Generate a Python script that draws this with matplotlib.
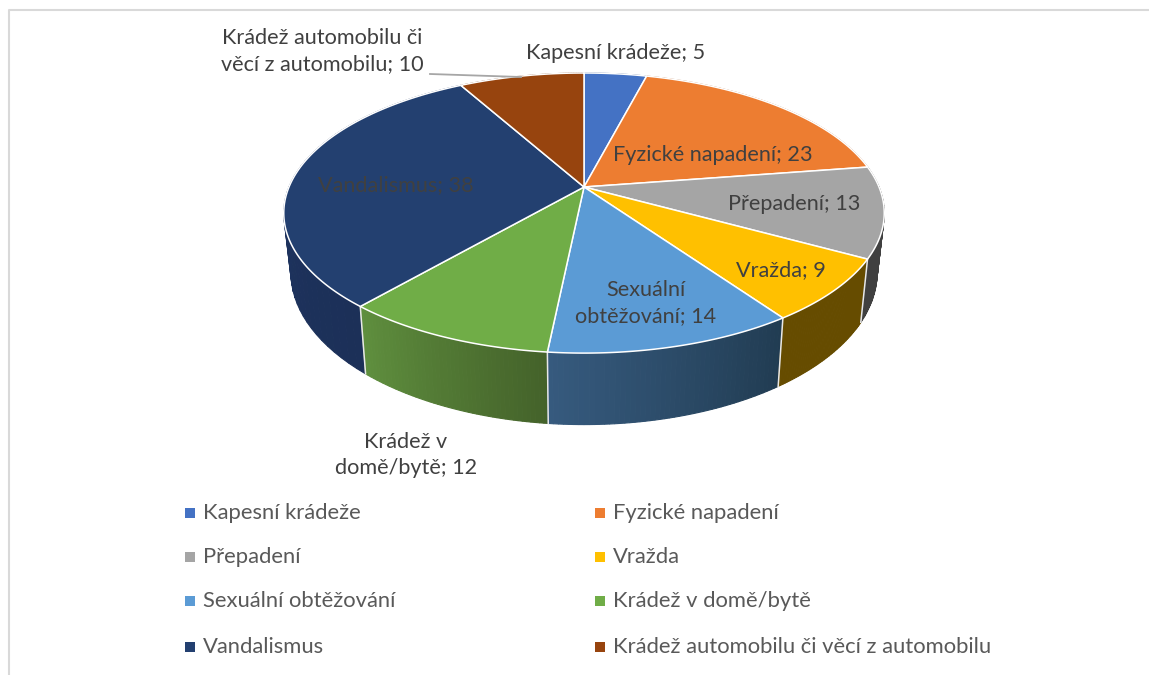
import matplotlib
matplotlib.use('Agg')
import matplotlib.pyplot as plt
import matplotlib.colors as mc
import numpy as np

plt.rcParams['font.family'] = ['Lato', 'DejaVu Sans']

categories = ['Kapesní krádeže', 'Fyzické napadení', 'Přepadení', 'Vražda',
              'Sexuální obtěžování', 'Krádež v domě/bytě', 'Vandalismus',
              'Krádež automobilu či věcí z automobilu']
values = [5, 23, 13, 9, 14, 12, 38, 10]
slice_labels = ['Kapesní krádeže; 5', 'Fyzické napadení; 23', 'Přepadení; 13', 'Vražda; 9',
                'Sexuální\nobtěžování; 14', 'Krádež v\ndomě/bytě; 12', 'Vandalismus; 38',
                'Krádež automobilu či\nvěcí z automobilu; 10']
colors = ['#4472C4', '#ED7D31', '#A5A5A5', '#FFC000', '#5B9BD5', '#70AD47', '#234070', '#97440E']
side_left = ['#2f4f88', '#a85820', '#404040', '#664c00', '#365a7e', '#5f8f3e', '#1f3766', '#6e320a']
side_right = ['#2f4f88', '#a85820', '#404040', '#664c00', '#213c52', '#44622a', '#1c3058', '#6e320a']
label_pos = [(616, 53), (713, 155), (794, 204), (781, 270), (646, 303), (406, 455), (396, 185), (322, 51)]

txt_col = '#404040'
fs = 15.6

# perspective disc, fitted on the picture
cx, cy = 584, 187
p = 0.186


def top_pts(th):
    den = 1 + p * np.cos(th)
    return cx + 295 * np.sin(th) / den, cy - 135.2 * np.cos(th) / den


def bottom_pts(th):
    den = 1 + p * np.cos(th)
    return cx + 288 * np.sin(th) / den, cy + 57 - 147 * np.cos(th) / den


fig = plt.figure(figsize=(11.49, 6.75), dpi=100)
ax = fig.add_axes([0, 0, 1, 1])
ax.set_xlim(0, 1149)
ax.set_ylim(675, 0)
ax.axis('off')

# frame
ax.plot([9, 9, 1149], [675, 10, 10], color='#d9d9d9', lw=1.5)

edges = np.cumsum([0] + values) / sum(values) * 2 * np.pi

# side wall, strips for the gradient
for i in range(len(values)):
    th = np.linspace(edges[i], edges[i + 1], 50)
    c0 = np.array(mc.to_rgb(side_left[i]))
    c1 = np.array(mc.to_rgb(side_right[i]))
    xt, yt = top_pts(th)
    xb, yb = bottom_pts(th)
    for j in range(len(th) - 1):
        # theta runs right to left on the front wall
        t = j / (len(th) - 2)
        col = c1 * (1 - t) + c0 * t
        ax.fill([xt[j], xt[j + 1], xb[j + 1], xb[j]], [yt[j], yt[j + 1], yb[j + 1], yb[j]],
                facecolor=col, edgecolor=col, lw=0.8, zorder=2 + j * 0.001)

# seams on the visible wall
for e in edges:
    if np.pi / 2 < e < 3 * np.pi / 2:
        xt, yt = top_pts(e)
        xb, yb = bottom_pts(e)
        ax.plot([xt, xb], [yt, yb], color='#e8e8e8', lw=1.1, zorder=3)

# top of the pie
for i in range(len(values)):
    th = np.linspace(edges[i], edges[i + 1], 120)
    xt, yt = top_pts(th)
    ax.fill(np.r_[cx, xt], np.r_[cy, yt], facecolor=colors[i], edgecolor='white', lw=1.1, zorder=4)

# leader line
ax.plot([430, 521], [74, 77], color='#a6a6a6', lw=1.3, zorder=5)

for lab, (x, y) in zip(slice_labels, label_pos):
    ax.text(x, y, lab, ha='center', va='center', fontsize=fs, color=txt_col, zorder=6, linespacing=1.35)

# legend
leg_x = [190, 600]
leg_y = [513, 557, 601, 647]
for i, name in enumerate(categories):
    col, row = i % 2, i // 2
    ax.plot(leg_x[col], leg_y[row], 's', color=colors[i], ms=6.5, mew=0)
    ax.text(leg_x[col] + 13, leg_y[row], name, ha='left', va='center', fontsize=fs + 0.2, color='#595959')

fig.savefig('out.png', dpi=100)
